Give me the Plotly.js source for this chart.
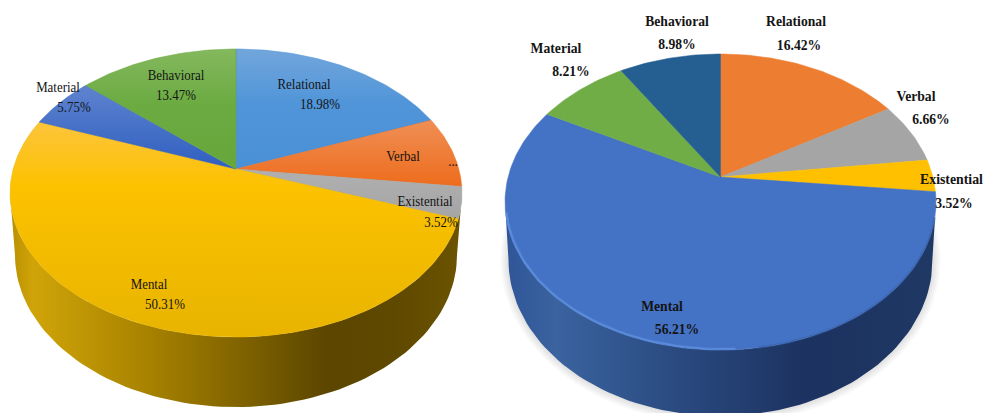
<!DOCTYPE html>
<html><head><meta charset="utf-8">
<script src="https://cdn.plot.ly/plotly-3.0.1.min.js"></script>
<style>html,body{margin:0;padding:0;background:#fff}#c{width:984px;height:413px}</style>
</head><body><div id="c"></div>
<script>
// Data
const categories = ['Relational','Verbal','Existential','Mental','Material','Behavioral'];
const leftValues = [18.98,7.97,3.52,50.31,5.75,13.47];
const rightValues = [16.42,6.66,3.52,56.21,8.21,8.98];
const leftValueLabels = ['18.98%','...','3.52%','50.31%','5.75%','13.47%'];
const rightValueLabels = ['16.42%','6.66%','3.52%','56.21%','8.21%','8.98%'];
// Label placement
const leftNameX = [304,403,425,149,58,176], leftNameY = [85,157,202,285,88,76];
const leftValX  = [320,453,441,165,74,176], leftValY  = [105,162,223,305,108,96];
const rightNameX = [796,916,951.5,662,556,677], rightNameY = [22,97,181,307,49,22];
const rightValX  = [799,931,954,677,571,677], rightValY  = [46,120,204,330,72,45];
const rightNameSize = [15.5,15.5,13.8,15.5,15.5,15.5];
// Styling
const leftGrad = [
  [[0,'#72a6dc'],[0.45,'#5095d8'],[1,'#4a90d6']],
  [[0,'#ef8f55'],[1,'#ee6c1c']],
  [[0,'#b0b0b0'],[1,'#a5a5a5']],
  [[0,'#fdc43c'],[0.3,'#fcc200'],[1,'#e8b400']],
  [[0,'#5f83cf'],[1,'#2f5fc0']],
  [[0,'#84b85e'],[0.45,'#6cab42'],[1,'#66a63a']]];
const rightGrad = ['#ed7d31','#a5a5a5','#ffc000','#4472c4','#70ad47','#255e91'].map(c=>[[0,c],[1,c]]);
const leftSide = [[0,'#b88f00'],[0.05,'#d0a408'],[0.3,'#a88300'],[0.7,'#5c4600'],[0.85,'#5f4900'],[1,'#6b5300']];
const rightSide = [[0,'#2f5597'],[0.12,'#3a639f'],[0.4,'#2a4a80'],[0.7,'#1c3260'],[1,'#1f3864']];

// Geometry of each disc: perspective projection of a circle
function pieTraces(vals, g, grad, side, rim){
  const out = [];
  const proj = (u,v)=>{const d=1+g.c*v; return [g.cx+g.k*u/d, g.ay-g.h*v/d];};
  const rx = g.k/Math.sqrt(1-g.c*g.c);
  const top = proj(0,1)[1], bot = proj(0,-1)[1];
  const ecy=(top+bot)/2, ery=(bot-top)/2;
  if(g.shadow){
    for(let i=4;i>=1;i--){
      const xs=[],ys=[];
      for(let t=0;t<=360;t+=3){const a=t*Math.PI/180;
        xs.push(g.cx+(g.lrx+i*2)*Math.cos(a)); ys.push(g.lcy+(g.lry+i*2)*Math.sin(a));}
      out.push({type:'scatter',mode:'lines',x:xs,y:ys,fill:'toself',fillcolor:'rgba(0,0,0,0.028)',line:{width:0},hoverinfo:'skip'});
    }
  }
  const sx=[],sy=[];
  for(let t=180;t>=0;t-=2){const a=t*Math.PI/180; sx.push(g.cx+rx*Math.cos(a)); sy.push(ecy+ery*Math.sin(a));}
  for(let t=0;t<=180;t+=2){const a=t*Math.PI/180; sx.push(g.cx+g.lrx*Math.cos(a)); sy.push(g.lcy+g.lry*Math.sin(a));}
  out.push({type:'scatter',mode:'lines',x:sx,y:sy,fill:'toself',line:{width:0,color:side[0][1]},
    fillgradient:{type:'horizontal',colorscale:side,start:g.cx-rx,stop:g.cx+rx},hoverinfo:'skip'});
  let cum=0; const tot=vals.reduce((a,b)=>a+b,0);
  vals.forEach((v,i)=>{
    const a0=cum/tot*2*Math.PI, a1=(cum+v)/tot*2*Math.PI; cum+=v;
    const xs=[g.cx],ys=[g.ay];
    const n=Math.max(4,Math.ceil((a1-a0)/0.02));
    for(let j=0;j<=n;j++){const a=a0+(a1-a0)*j/n; const p=proj(Math.sin(a),Math.cos(a)); xs.push(p[0]); ys.push(p[1]);}
    xs.push(g.cx); ys.push(g.ay);
    const last=grad[i][grad[i].length-1][1];
    out.push({type:'scatter',mode:'lines',name:categories[i],x:xs,y:ys,fill:'toself',line:{width:0.5,color:last},
      fillgradient:{type:'vertical',colorscale:grad[i],start:Math.min(...ys),stop:Math.max(...ys)},hoverinfo:'skip'});
  });
  if(rim){
    [[rim,3,0.35],[rim,1.5,0.8]].forEach(s=>{
      const xs=[],ys=[];
      for(let t=176;t>=85;t-=2){const a=t*Math.PI/180; xs.push(g.cx+(rx-1)*Math.cos(a)); ys.push(ecy+(ery-1)*Math.sin(a));}
      out.push({type:'scatter',mode:'lines',x:xs,y:ys,opacity:s[2],line:{width:s[1],color:s[0]},hoverinfo:'skip'});
    });
    const xs=[],ys=[];
    for(let t=80;t>=5;t-=2){const a=t*Math.PI/180; xs.push(g.cx+rx*Math.cos(a)); ys.push(ecy+ery*Math.sin(a));}
    out.push({type:'scatter',mode:'lines',x:xs,y:ys,opacity:0.35,line:{width:2.5,color:'#2f5597'},hoverinfo:'skip'});
  }
  return out;
}
const leftGeom = {cx:236,ay:169,c:1/6,h:140,k:222.8,lrx:221,lcy:255,lry:152};
const rightGeom = {cx:720.5,ay:177,c:0.169,h:143.8,k:212.4,lrx:212,lcy:260,lry:156,shadow:true};

function textTrace(x,y,t,weight,size){
  return {type:'scatter',mode:'text',x:x,y:y,text:t,textposition:'middle center',
    textfont:{family:'"Liberation Serif","Times New Roman",serif',size:size,weight:weight,color:'#141414'},hoverinfo:'skip'};
}
const data=[
  ...pieTraces(leftValues,leftGeom,leftGrad,leftSide,null),
  ...pieTraces(rightValues,rightGeom,rightGrad,rightSide,'#5f90e0'),
  textTrace(leftNameX,leftNameY,categories,'normal',15),
  textTrace(leftValX,leftValY,leftValueLabels,'normal',15),
  textTrace(rightNameX,rightNameY,categories,'bold',rightNameSize),
  textTrace(rightValX,rightValY,rightValueLabels,'bold',15.5)
];
Plotly.newPlot('c',data,{
  width:984,height:413,margin:{l:0,r:0,t:0,b:0},showlegend:false,
  paper_bgcolor:'#fff',plot_bgcolor:'#fff',
  xaxis:{range:[0,984],visible:false,fixedrange:true},
  yaxis:{range:[413,0],visible:false,fixedrange:true}
},{displayModeBar:false,staticPlot:true}).then(gd=>{
  // the source lettering is condensed: narrow each label horizontally
  gd.querySelectorAll('.textpoint text').forEach(el=>{
    const size=parseFloat(el.style.fontSize||'15');
    if(size<15) return;
    const isBold=/bold|700/.test(el.style.fontWeight||'');
    const w=el.getComputedTextLength();
    el.setAttribute('lengthAdjust','spacingAndGlyphs');
    el.setAttribute('textLength',(w*(isBold?0.88:0.86)).toFixed(1));
  });
});
</script></body></html>
